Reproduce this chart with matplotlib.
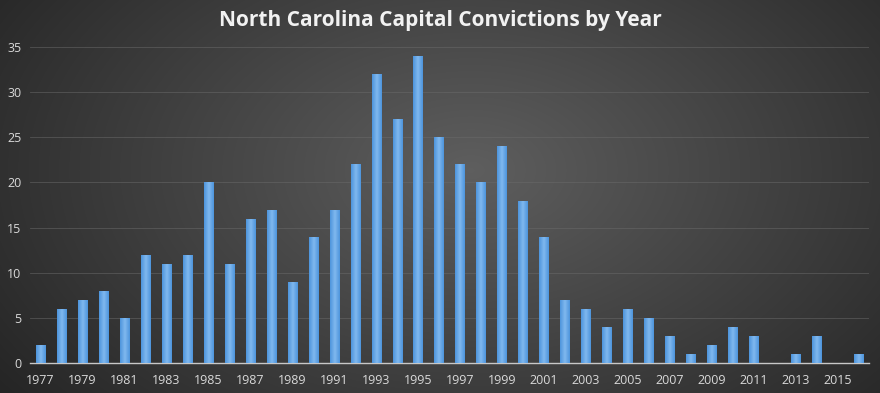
import numpy as np
import matplotlib
matplotlib.use('agg')
import matplotlib.pyplot as plt

years = list(range(1977, 2017))
convictions = [2, 6, 7, 8, 5, 12, 11, 12, 20, 11,
               16, 17, 9, 14, 17, 22, 32, 27, 34, 25,
               22, 20, 24, 18, 14, 7, 6, 4, 6, 5,
               3, 1, 2, 4, 3, 0, 1, 3, 0, 1]
tick_years = years[::2]
title = "North Carolina Capital Convictions by Year"

plt.rcParams['font.family'] = ['Open Sans', 'DejaVu Sans']

fig = plt.figure(figsize=(8.8, 3.93), dpi=100)

# radial dark background
bg = fig.add_axes([0, 0, 1, 1])
yy, xx = np.mgrid[0:393, 0:880]
r = np.sqrt(((xx - 470) / 520.0) ** 2 + ((yy - 170) / 330.0) ** 2)
shade = np.clip(0.37 - 0.2 * r, 0.13, 0.37)
bg.imshow(np.dstack([shade, shade, shade]), aspect='auto', extent=[0, 1, 0, 1])
bg.axis('off')

ax = fig.add_axes([0.034, 0.0763, 0.9535, 0.804])
ax.patch.set_alpha(0)

x = np.arange(len(years))
bars = ax.bar(x, convictions, width=0.43, color='#5b9bd5', zorder=3)

# horizontal gradient inside each bar
grad = np.linspace(0, 1, 64).reshape(1, -1)
cmap = matplotlib.colors.LinearSegmentedColormap.from_list(
    'bar', ['#4d94dc', '#80b8ee', '#4d94dc'])
for b in bars:
    if b.get_height() <= 0:
        continue
    im = ax.imshow(grad, cmap=cmap, aspect='auto', zorder=4,
                   extent=[b.get_x(), b.get_x() + b.get_width(), 0, b.get_height()])
    im.set_clip_path(b)

ax.set_xlim(-0.5, len(years) - 0.5)
ax.set_ylim(0, 35)
ax.set_yticks(range(0, 36, 5))
ax.set_xticks([years.index(y) for y in tick_years])
ax.set_xticklabels([str(y) for y in tick_years])
ax.tick_params(colors='#d9d9d9', labelsize=9, length=0)
ax.tick_params(axis='x', pad=8)
ax.tick_params(axis='y', pad=6)

ax.grid(axis='y', color='#6a6a6a', linewidth=0.6, alpha=0.6, zorder=0)
for s in ['top', 'right', 'left']:
    ax.spines[s].set_visible(False)
ax.spines['bottom'].set_color('#c8c8c8')
ax.spines['bottom'].set_linewidth(1.0)

fig.text(0.5, 0.948, title, ha='center', va='center', color='#f2f2f2',
         fontsize=15, fontweight='bold')

fig.savefig('out.png', dpi=100)
